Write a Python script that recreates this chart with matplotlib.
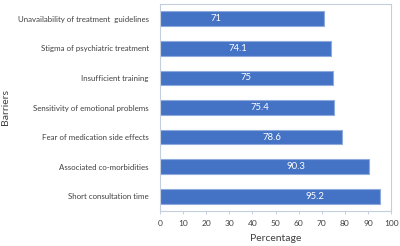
import matplotlib.pyplot as plt

barriers = [
    "Unavailability of treatment  guidelines",
    "Stigma of psychiatric treatment",
    "Insufficient training",
    "Sensitivity of emotional problems",
    "Fear of medication side effects",
    "Associated co-morbidities",
    "Short consultation time",
]
percent = [71, 74.1, 75, 75.4, 78.6, 90.3, 95.2]
label_x = [24, 33.5, 37, 43, 48.5, 59, 67]  # where the value labels sit (data units)

plt.rcParams['font.family'] = ['Lato', 'DejaVu Sans']

fig = plt.figure(figsize=(4, 2.46), dpi=100)
ax = fig.add_axes([0.40, 0.142, 0.578, 0.842])

ypos = list(range(len(barriers)))
ax.barh(ypos, percent, height=0.5, color='#4472C4', edgecolor='#8FAADC', linewidth=0.8)
for y, v, lx in zip(ypos, percent, label_x):
    ax.text(lx, y, str(v), color='white', fontsize=6.8, ha='center', va='center')

ax.set_ylim(len(barriers) - 0.5, -0.5)
ax.set_xlim(0, 100)
ax.set_xticks(range(0, 101, 10))
ax.set_yticks(ypos)
ax.set_yticklabels(barriers)
ax.tick_params(axis='x', labelsize=6, colors='#404040', length=2.5, width=0.6,
               color='#BFC9DA', pad=4)
ax.tick_params(axis='y', labelsize=5.7, colors='#404040', length=0, pad=8)
for s in ax.spines.values():
    s.set_color('#C5CEDD')
    s.set_linewidth(0.8)

ax.set_xlabel("Percentage", fontsize=7.5, color='#404040', labelpad=5)
fig.text(0.014, 0.565, "Barriers", rotation=90, fontsize=7.5, color='#404040',
         ha='center', va='center')

fig.savefig("out.png", dpi=100)
